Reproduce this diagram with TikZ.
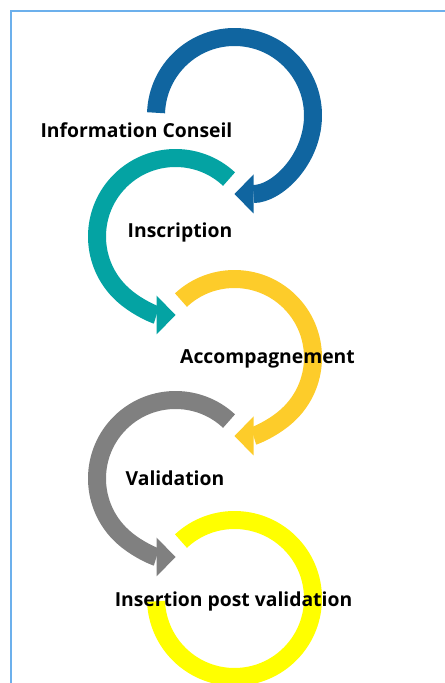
\documentclass[tikz,border=0pt]{standalone}
\usepackage{fontspec}
\setmainfont{Open Sans}
\usetikzlibrary{arrows.meta}
\definecolor{CycleBlue}{RGB}{16,101,160}
\definecolor{CycleTeal}{RGB}{4,163,163}
\definecolor{CycleGold}{RGB}{253,204,42}
\definecolor{CycleGray}{RGB}{128,128,128}
\definecolor{CycleYellow}{RGB}{255,255,0}
\definecolor{FrameBlue}{RGB}{108,176,236}

\begin{document}
\begin{tikzpicture}[x=0.75pt, y=0.75pt,
		ring/.style={line width=13.5pt},
		ringtip/.style={-{Triangle[length=14.25pt,width=29.25pt,line width=0pt]}},
		phasetext/.style={font=\fontsize{14.5}{17}\selectfont\bfseries, inner sep=0pt, anchor=base}]
				\useasboundingbox (0,0) rectangle (444,683);

				% frame
				\draw[FrameBlue, line width=1.5pt] (11,-2) -- (11,672) -- (446,672);

				% ring centres
				\coordinate (cinfo) at (234.5,567.5);
				\coordinate (cinsc) at (175.5,446.5);
				\coordinate (cacco) at (234.5,325.5);
				\coordinate (cvali) at (175.5,204.5);
				\coordinate (cinse) at (234.5,84.5);

				%% rings:
				% information conseil
				\draw[ring, ringtip, CycleBlue] ([shift={(178:78.5)}]cinfo) arc (178:-90:78.5);
				% inscription
				\draw[ring, ringtip, CycleTeal] ([shift={(47:78.5)}]cinsc) arc (47:270:78.5);
				% accompagnement
				\draw[ring, ringtip, CycleGold] ([shift={(133:78.5)}]cacco) arc (133:-90:78.5);
				% validation
				\draw[ring, ringtip, CycleGray] ([shift={(47:78.5)}]cvali) arc (47:270:78.5);
				% insertion, no tip
				\draw[ring, CycleYellow] ([shift={(133:78.5)}]cinse) arc (133:-178:78.5);

				% texts
				\node[phasetext] (info) at (136.5,545.7) {Information Conseil};
				\node[phasetext] (insc) at (180,445.5) {Inscription};
				\node[phasetext] (acco) at (267.5,319.7) {Accompagnement};
				\node[phasetext] (vali) at (175,197.3) {Validation};
				\node[phasetext] (inse) at (233.5,76.3) {Insertion post validation};
\end{tikzpicture}
\end{document}
